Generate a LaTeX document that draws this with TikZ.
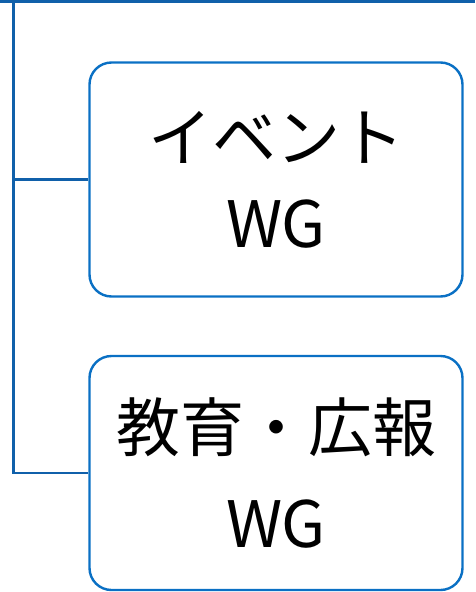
\documentclass[tikz,border=0pt]{standalone}
\usepackage{fontspec}
\setmainfont{Noto Sans CJK JP}
\definecolor{linkblue}{RGB}{16,96,170}
\definecolor{boxblue}{RGB}{10,112,196}
\begin{document}
\begin{tikzpicture}[x=1pt,y=-1pt,
  wgbox/.style={draw=boxblue, line width=2.4pt, rounded corners=22pt,
    minimum width=373pt, minimum height=234pt, inner sep=0pt,
    align=center},
  link/.style={draw=linkblue, line width=2.6pt}]
\useasboundingbox (0,0) rectangle (475,592);
\coordinate (tl) at (0,1.5);
\coordinate (tr) at (475,1.5);
\coordinate (vtop) at (13.5,1.5);
\node[wgbox, font=\fontsize{64}{86}\selectfont] (b1) at (276,179.5) {イベント\\WG};
\node[wgbox, font=\fontsize{64}{96}\selectfont] (b2) at (276,473) {教育・広報\\WG};
\draw[link] (tl) -- (tr);
\draw[link] (vtop) |- (b2.west);
\draw[link] (vtop |- b1.west) -- (b1.west);
\end{tikzpicture}
\end{document}
